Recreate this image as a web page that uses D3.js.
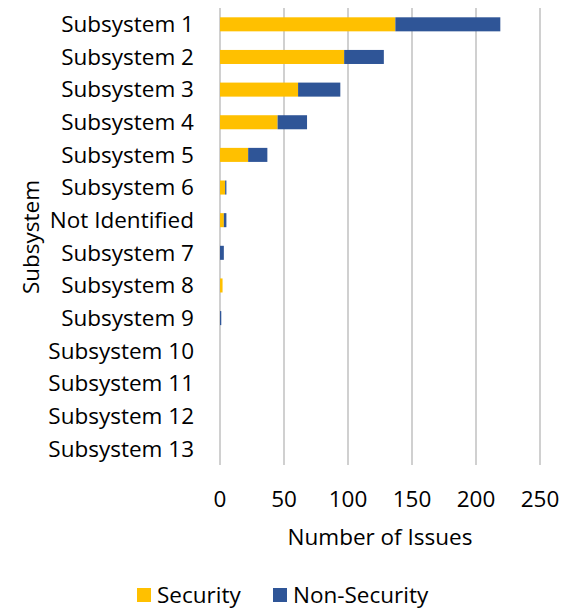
<!DOCTYPE html>
<html>
<head>
<meta charset="utf-8">
<script src="https://cdn.jsdelivr.net/npm/d3@7"></script>
<style>
  html, body { margin: 0; padding: 0; background: #fff; }
  svg { display: block; }
  text { font-family: "Open Sans", "Noto Sans", sans-serif; fill: #000; }
</style>
</head>
<body>
<svg id="chart" width="563" height="610"></svg>
<script>
// Issue counts per subsystem, split by security relevance
const categories = ["Subsystem 1", "Subsystem 2", "Subsystem 3", "Subsystem 4", "Subsystem 5",
  "Subsystem 6", "Not Identified", "Subsystem 7", "Subsystem 8", "Subsystem 9",
  "Subsystem 10", "Subsystem 11", "Subsystem 12", "Subsystem 13"];
const security    = [137, 97, 61, 45, 22, 4, 3, 0, 2, 0, 0, 0, 0, 0];
const nonSecurity = [82, 31, 33, 23, 15, 1, 2, 3, 0, 1, 0, 0, 0, 0];
const seriesNames = ["Security", "Non-Security"];
const xTicks = [0, 50, 100, 150, 200, 250];
const colors = ["#FFC000", "#2F5597"];

const svg = d3.select("#chart");
const margin = { left: 220, right: 23, top: 8, bottom: 145 };
const W = 563, H = 610;
const fs = 22.5;

const x = d3.scaleLinear().domain([0, 250]).range([margin.left, W - margin.right]);
const y = d3.scaleBand().domain(categories).range([margin.top, H - margin.bottom]).paddingInner(0.57).paddingOuter(0.285);

const rows = categories.map((c, i) => ({ cat: c, Security: security[i], "Non-Security": nonSecurity[i] }));
const stacked = d3.stack().keys(seriesNames)(rows);

// vertical gridlines
svg.append("g").selectAll("line").data(xTicks).join("line")
  .attr("x1", d => x(d)).attr("x2", d => x(d))
  .attr("y1", margin.top).attr("y2", H - margin.bottom)
  .attr("stroke", "#c0c0c0").attr("stroke-width", 1.5);

// stacked bars
svg.append("g").selectAll("g").data(stacked).join("g")
  .attr("fill", (d, i) => colors[i])
  .selectAll("rect").data(d => d.filter(s => s[1] - s[0] > 0)).join("rect")
  .attr("x", d => x(d[0]))
  .attr("width", d => x(d[1]) - x(d[0]))
  .attr("y", d => y(d.data.cat))
  .attr("height", y.bandwidth());

// category labels
svg.append("g").selectAll("text").data(categories).join("text")
  .attr("x", 194).attr("y", d => y(d) + y.bandwidth() / 2)
  .attr("dy", "0.35em").attr("text-anchor", "end")
  .attr("font-size", fs).text(d => d);

// x tick labels
svg.append("g").selectAll("text").data(xTicks).join("text")
  .attr("x", d => x(d)).attr("y", 507)
  .attr("text-anchor", "middle").attr("font-size", fs).text(d => d);

// axis titles
svg.append("text").attr("x", 380).attr("y", 545).attr("text-anchor", "middle")
  .attr("font-size", fs).text("Number of Issues");
svg.append("text").attr("transform", "translate(31,237) rotate(-90)")
  .attr("text-anchor", "middle").attr("dy", "0.35em").attr("font-size", fs).text("Subsystem");

// legend
const legendX = [137, 273];
const lg = svg.append("g").selectAll("g").data(seriesNames).join("g")
  .attr("transform", (d, i) => `translate(${legendX[i]},595)`);
lg.append("rect").attr("x", 0).attr("y", -7).attr("width", 14).attr("height", 14)
  .attr("fill", (d, i) => colors[i]);
lg.append("text").attr("x", 20).attr("dy", "0.35em").attr("font-size", fs).text(d => d);
</script>
</body>
</html>
